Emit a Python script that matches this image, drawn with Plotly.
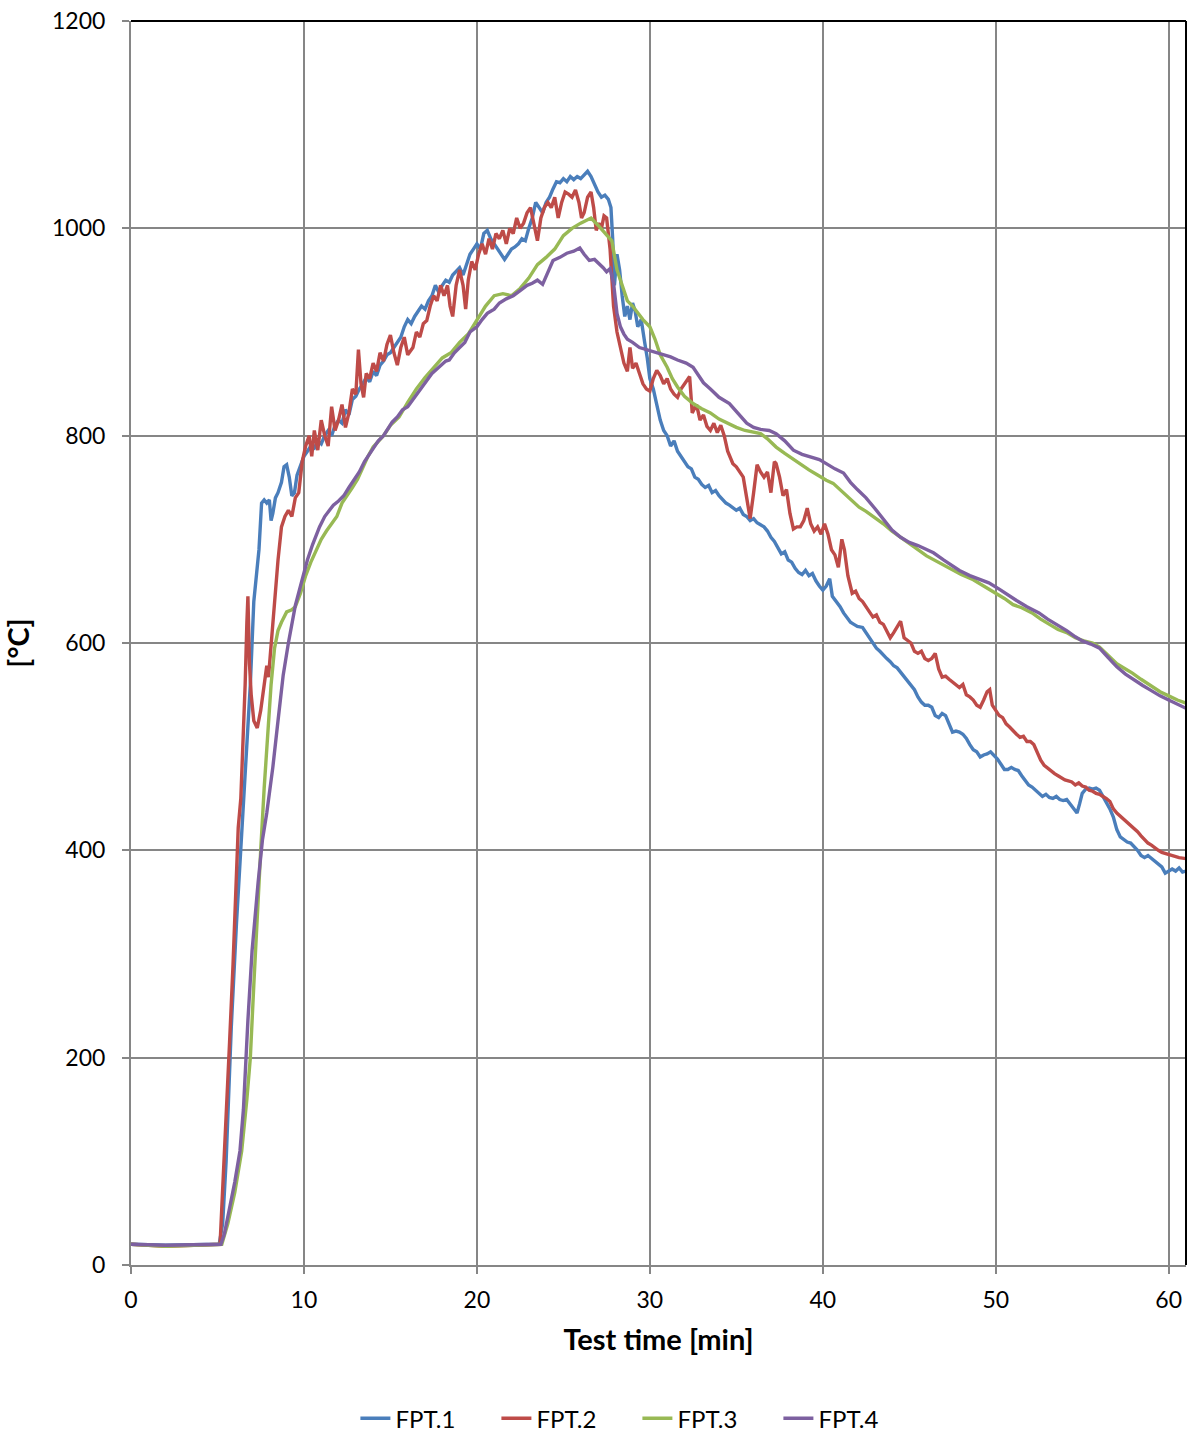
import plotly.graph_objects as go

# ---------------- data ----------------
t1 = [0, 2, 5.1, 5.3, 5.5, 5.8, 6.1, 6.4, 6.7, 6.9, 7.1, 7.25, 7.4, 7.55, 7.7, 7.85, 8.0, 8.1, 8.2, 8.35, 8.5,
      8.7, 8.85, 9.0, 9.15, 9.3, 9.45, 9.6, 9.75, 10.0, 10.2, 10.4, 10.6, 10.8, 11.0, 11.2, 11.4, 11.6, 11.8,
      12.0, 12.2, 12.4, 12.6, 12.8, 13.0, 13.2, 13.4, 13.6, 13.8, 14.0, 14.2, 14.4, 14.6, 14.8, 15.0, 15.2,
      15.4, 15.6, 15.8, 16.0, 16.2, 16.4, 16.6, 16.8, 17.0, 17.2, 17.4, 17.6, 17.8, 18.0, 18.2, 18.4, 18.6,
      18.8, 19.0, 19.2, 19.4, 19.6, 19.8, 20.0, 20.2, 20.4, 20.6, 20.8, 21.0, 21.2, 21.4, 21.6, 21.8, 22.0,
      22.2, 22.4, 22.6, 22.8, 23.0, 23.2, 23.4, 23.6, 23.8, 24.0, 24.2, 24.4, 24.6, 24.8, 25.0, 25.2, 25.4,
      25.6, 25.8, 26.0, 26.2, 26.4, 26.6, 26.8, 27.0, 27.2, 27.4, 27.6, 27.75, 27.85, 27.95, 28.1, 28.25,
      28.4, 28.55, 28.7, 28.85, 29.0, 29.15, 29.3, 29.5, 29.7, 29.85, 30.0, 30.2, 30.4, 30.6, 30.8, 31.0,
      31.2, 31.4, 31.6, 31.8, 32.0, 32.2, 32.4, 32.6, 32.8, 33.0, 33.2, 33.4, 33.6, 33.8, 34.0, 34.2, 34.4,
      34.6, 34.8, 35.0, 35.2, 35.4, 35.6, 35.8, 36.0, 36.2, 36.4, 36.6, 36.8, 37.0, 37.2, 37.4, 37.6, 37.8,
      38.0, 38.2, 38.4, 38.6, 38.8, 39.0, 39.2, 39.4, 39.6, 39.8, 40.0, 40.2, 40.4, 40.55, 40.8, 41.0, 41.2,
      41.4, 41.6, 41.8, 42.0, 42.3, 42.5, 42.7, 42.9, 43.1, 43.3, 43.5, 43.7, 43.9, 44.1, 44.3, 44.5, 44.7,
      44.9, 45.1, 45.3, 45.5, 45.7, 45.9, 46.1, 46.3, 46.5, 46.7, 46.9, 47.1, 47.3, 47.5, 47.7, 47.9, 48.1,
      48.3, 48.5, 48.7, 48.9, 49.1, 49.3, 49.5, 49.7, 49.9, 50.1, 50.3, 50.5, 50.7, 50.9, 51.1, 51.3, 51.5,
      51.7, 51.9, 52.1, 52.3, 52.5, 52.7, 52.9, 53.1, 53.3, 53.5, 53.7, 53.9, 54.1, 54.3, 54.5, 54.7, 54.85,
      55.0, 55.2, 55.4, 55.6, 55.8, 56.0, 56.2, 56.4, 56.6, 56.8, 57.0, 57.2, 57.4, 57.6, 57.8, 58.0, 58.2,
      58.4, 58.6, 58.8, 59.0, 59.2, 59.4, 59.6, 59.8, 60.0, 60.2, 60.4, 60.6, 60.8, 61.0]
v1 = [20, 19, 20, 40, 100, 230, 330, 420, 500, 560, 640, 665, 690, 735, 738, 735, 738, 718, 725, 740, 745,
      755, 770, 772, 760, 742, 745, 762, 768, 780, 785, 790, 788, 795, 792, 800, 805, 800, 810,
      815, 812, 825, 820, 835, 838, 845, 850, 856, 852, 862, 858, 868, 872, 878, 880, 885,
      890, 895, 905, 912, 908, 915, 920, 925, 922, 930, 935, 945, 938, 945, 950, 948, 955,
      958, 962, 955, 965, 975, 980, 985, 980, 995, 998, 990, 985, 980, 975, 970, 975, 980,
      982, 985, 990, 988, 1000, 1010, 1025, 1020, 1015, 1025, 1030, 1038, 1045, 1044, 1048, 1045, 1050,
      1047, 1050, 1048, 1052, 1055, 1050, 1042, 1035, 1030, 1032, 1028, 1020, 990, 945, 975, 960,
      935, 915, 925, 912, 928, 920, 905, 912, 890, 875, 855, 845, 830, 815, 805, 800,
      790, 795, 785, 780, 775, 770, 768, 760, 758, 753, 750, 752, 745, 747, 742, 738, 735,
      733, 730, 728, 730, 724, 722, 718, 720, 716, 714, 712, 708, 702, 698, 692, 686, 688,
      680, 678, 672, 668, 666, 670, 665, 667, 660, 655, 651, 655, 662, 645, 640, 635, 629,
      625, 620, 618, 616, 615, 610, 605, 600, 595, 592, 588, 585, 582, 578, 576, 572, 568,
      563, 560, 555, 548, 543, 540, 540, 538, 530, 528, 532, 530, 522, 514, 515, 514, 512,
      508, 502, 497, 495, 490, 492, 493, 495, 492, 488, 483, 478, 478, 480, 478, 477, 472,
      468, 463, 461, 458, 455, 452, 454, 451, 450, 452, 449, 448, 449, 445, 440, 436, 445,
      455, 459, 460, 459, 460, 458, 452, 445, 440, 432, 420, 413, 410, 408, 407, 404, 400,
      395, 393, 395, 392, 390, 387, 384, 378, 380, 382, 380, 383, 379, 380]

t2 = [0, 2, 5.15, 5.3, 5.5, 5.7, 5.9, 6.1, 6.2, 6.35, 6.5, 6.6, 6.7, 6.76, 6.85, 6.95, 7.1, 7.3, 7.5, 7.7,
      7.85, 7.95, 8.1, 8.3, 8.5, 8.7, 8.9, 9.1, 9.3, 9.5, 9.7, 9.9, 10.1, 10.3, 10.45, 10.6, 10.8, 11.0,
      11.2, 11.4, 11.6, 11.8, 12.0, 12.2, 12.4, 12.6, 12.8, 13.0, 13.15, 13.3, 13.45, 13.6, 13.8, 14.0,
      14.2, 14.4, 14.6, 14.8, 15.0, 15.2, 15.4, 15.6, 15.8, 16.0, 16.3, 16.5, 16.7, 16.9, 17.1, 17.3,
      17.5, 17.7, 17.9, 18.1, 18.3, 18.45, 18.6, 18.8, 19.0, 19.2, 19.35, 19.5, 19.7, 19.9, 20.1, 20.3,
      20.5, 20.7, 20.9, 21.1, 21.3, 21.5, 21.7, 21.9, 22.1, 22.3, 22.5, 22.7, 22.9, 23.1, 23.3, 23.5,
      23.7, 23.9, 24.1, 24.3, 24.5, 24.7, 24.9, 25.1, 25.3, 25.5, 25.7, 25.9, 26.05, 26.2, 26.4, 26.6,
      26.75, 26.9, 27.05, 27.2, 27.35, 27.5, 27.7, 27.9, 28.1, 28.3, 28.5, 28.7, 28.85, 29.0, 29.2, 29.4,
      29.6, 29.8, 30.0, 30.2, 30.4, 30.6, 30.8, 31.0, 31.2, 31.4, 31.6, 31.8, 32.0, 32.3, 32.45, 32.7,
      32.9, 33.1, 33.3, 33.5, 33.7, 33.9, 34.1, 34.3, 34.5, 34.8, 35.0, 35.2, 35.4, 35.6, 35.8, 36.0,
      36.2, 36.4, 36.6, 36.8, 37.0, 37.2, 37.3, 37.5, 37.7, 37.9, 38.1, 38.3, 38.5, 38.7, 38.9, 39.1,
      39.3, 39.5, 39.7, 39.9, 40.1, 40.3, 40.5, 40.7, 40.9, 41.1, 41.25, 41.45, 41.7, 41.9, 42.1, 42.3,
      42.5, 42.7, 42.9, 43.1, 43.3, 43.5, 43.7, 43.9, 44.1, 44.3, 44.5, 44.7, 44.9, 45.1, 45.3, 45.5,
      45.7, 45.9, 46.1, 46.3, 46.5, 46.7, 46.9, 47.1, 47.3, 47.5, 47.7, 47.9, 48.1, 48.3, 48.5, 48.7,
      48.9, 49.1, 49.3, 49.5, 49.65, 49.8, 50.0, 50.2, 50.4, 50.6, 50.8, 51.0, 51.2, 51.4, 51.6, 51.8,
      52.0, 52.2, 52.4, 52.6, 52.8, 53.0, 53.2, 53.4, 53.6, 53.8, 54.0, 54.2, 54.4, 54.6, 54.8, 55.0,
      55.2, 55.4, 55.6, 55.8, 56.0, 56.2, 56.4, 56.6, 56.8, 57.0, 57.2, 57.4, 57.6, 57.8, 58.0, 58.2,
      58.4, 58.6, 58.8, 59.0, 59.2, 59.4, 59.6, 59.8, 60.0, 60.3, 60.6, 61.0]
v2 = [20, 18, 20, 70, 150, 215, 290, 390, 422, 450, 510, 560, 620, 645, 580, 550, 525, 518, 535, 560,
      578, 567, 600, 640, 680, 712, 722, 728, 722, 740, 745, 775, 790, 800, 780, 805, 786, 815,
      800, 790, 828, 805, 815, 830, 808, 822, 845, 840, 883, 850, 837, 860, 855, 870,
      862, 880, 872, 888, 897, 880, 868, 885, 895, 878, 885, 900, 895, 908, 911, 925,
      935, 930, 945, 935, 945, 925, 915, 945, 960, 945, 922, 950, 968, 960, 975, 985,
      975, 990, 980, 995, 990, 998, 985, 1000, 995, 1010, 1000, 1005, 1015, 1020, 1005, 988,
      1010, 1020, 1025, 1020, 1030, 1010, 1025, 1035, 1033, 1030, 1037, 1025, 1010, 1015, 1030, 1035,
      1020, 998, 1005, 1000, 1012, 1010, 980, 925, 900, 885, 870, 862, 885, 865, 870, 860,
      850, 845, 843, 855, 863, 858, 850, 855, 845, 840, 837, 845, 850, 857, 822, 830,
      815, 820, 809, 805, 812, 803, 810, 800, 785, 773, 770, 765, 760, 740, 720, 745,
      772, 765, 760, 765, 745, 775, 773, 760, 742, 748, 725, 710, 712, 712, 718, 730,
      715, 708, 712, 705, 715, 705, 690, 685, 673, 700, 690, 665, 648, 650, 643, 640,
      635, 630, 625, 627, 620, 618, 612, 605, 610, 615, 621, 605, 602, 600, 592, 590,
      592, 585, 583, 585, 590, 575, 567, 568, 565, 562, 560, 557, 560, 550, 548, 545,
      540, 538, 545, 553, 555, 540, 535, 530, 528, 522, 519, 515, 512, 509, 510, 505,
      505, 502, 495, 487, 482, 479, 477, 474, 472, 470, 468, 467, 466, 463, 465, 462,
      461, 458, 457, 455, 454, 452, 450, 447, 440, 436, 433, 430, 427, 424, 422, 418,
      414, 410, 407, 405, 402, 400, 398, 397, 396, 395, 393, 392]

t3 = [0, 2, 5.25, 5.6, 6.0, 6.4, 6.7, 6.9, 7.1, 7.3, 7.5, 7.7, 7.9, 8.1, 8.3, 8.5, 8.7, 9.0, 9.3, 9.5, 9.8,
      10.1, 10.4, 10.7, 11.0, 11.3, 11.6, 11.9, 12.2, 12.5, 12.8, 13.1, 13.4, 13.7, 14.0, 14.3, 14.6, 15.0,
      15.5, 16.0, 16.5, 17.0, 17.5, 18.0, 18.5, 19.0, 19.5, 20.0, 20.5, 21.0, 21.5, 22.0, 22.5, 23.0, 23.5,
      24.0, 24.5, 25.0, 25.5, 26.0, 26.6, 27.0, 27.4, 27.8, 28.1, 28.4, 28.7, 29.0, 29.3, 29.6, 30.0, 30.3,
      30.6, 31.0, 31.3, 31.6, 32.0, 32.5, 33.0, 33.5, 34.0, 34.5, 35.0, 35.5, 36.0, 36.4, 36.8, 37.3, 37.8,
      38.3, 38.8, 39.2, 39.7, 40.2, 40.6, 41.2, 41.6, 42.1, 42.5, 43.0, 43.5, 44.0, 44.5, 45.0, 45.5, 46.0,
      46.8, 47.5, 48.0, 48.7, 49.3, 50.0, 50.5, 51.0, 51.5, 52.1, 52.6, 53.2, 53.6, 54.1, 54.6, 55.1, 55.6,
      56.0, 56.5, 57.0, 57.5, 57.9, 58.4, 59.0, 59.5, 60.0, 60.5, 61.0]
v3 = [20, 18, 20, 40, 70, 110, 160, 200, 270, 340, 400, 460, 510, 560, 595, 612, 620, 630, 632, 635, 648,
      665, 678, 690, 700, 708, 715, 722, 735, 742, 750, 758, 770, 780, 789, 795, 800, 810,
      818, 832, 845, 856, 866, 875, 880, 890, 898, 912, 925, 935, 937, 935, 942, 952, 965,
      972, 980, 993, 1000, 1005, 1010, 1003, 995, 988, 960, 945, 930, 925, 918, 912, 905, 893,
      878, 866, 855, 847, 838, 831, 826, 822, 816, 812, 808, 805, 803, 802, 797, 789, 783,
      777, 772, 767, 762, 757, 754, 745, 738, 731, 727, 721, 715, 708, 702, 697, 690, 684,
      677, 670, 666, 661, 655, 648, 643, 637, 634, 629, 623, 617, 613, 610, 605, 602, 600,
      596, 588, 580, 575, 571, 565, 558, 553, 549, 545, 542]

t4 = [0, 2, 5.2, 5.4, 5.7, 6.0, 6.3, 6.5, 6.76, 7.0, 7.35, 7.6, 7.85, 8.2, 8.5, 8.8, 9.1, 9.5, 9.8, 10.2,
      10.5, 10.9, 11.2, 11.4, 11.7, 12.0, 12.3, 12.6, 12.9, 13.2, 13.5, 13.8, 14.0, 14.3, 14.6, 14.9, 15.1,
      15.4, 15.7, 16.0, 16.3, 16.7, 17.0, 17.4, 17.8, 18.2, 18.4, 18.7, 19.0, 19.3, 19.6, 20.0, 20.3, 20.6,
      21.0, 21.3, 21.7, 22.1, 22.5, 22.9, 23.2, 23.5, 23.8, 24.1, 24.4, 24.8, 25.2, 25.6, 25.95, 26.2, 26.5,
      26.8, 27.0, 27.3, 27.5, 27.7, 27.9, 28.1, 28.3, 28.5, 28.7, 29.0, 29.4, 29.8, 30.2, 30.7, 31.2, 31.6,
      32.1, 32.5, 32.8, 33.1, 33.5, 34.0, 34.6, 35.1, 35.6, 36.0, 36.4, 36.9, 37.3, 37.8, 38.3, 38.8, 39.4,
      39.8, 40.2, 40.7, 41.2, 41.6, 42.0, 42.5, 43.0, 43.5, 44.0, 44.5, 45.0, 45.5, 46.0, 46.4, 47.0, 47.5,
      47.9, 48.5, 49.0, 49.6, 50.2, 50.7, 51.2, 51.8, 52.5, 53.0, 53.6, 54.1, 54.6, 55.0, 55.5, 56.0, 56.5,
      57.0, 57.5, 58.0, 58.5, 58.9, 59.5, 60.0, 60.5, 61.0]
v4 = [20, 19, 20, 30, 55, 80, 110, 150, 236, 303, 369, 410, 436, 480, 525, 569, 600, 636, 655, 680,
      695, 712, 722, 726, 733, 737, 742, 750, 758, 765, 775, 783, 787, 795, 800, 808, 813,
      818, 825, 828, 835, 844, 852, 860, 866, 872, 873, 880, 885, 890, 900, 905, 912, 918,
      922, 928, 932, 935, 940, 945, 947, 950, 946, 958, 969, 972, 976, 978, 981, 975, 969,
      970, 967, 962, 958, 961, 947, 918, 905, 898, 893, 890, 885, 883, 881, 879, 876, 873,
      870, 866, 858, 851, 845, 837, 831, 822, 812, 808, 806, 805, 802, 795, 786, 782, 779,
      777, 773, 768, 764, 755, 748, 740, 730, 720, 709, 702, 697, 694, 690, 687, 680, 674,
      670, 665, 662, 658, 652, 646, 641, 635, 629, 623, 617, 612, 606, 602, 599, 595, 586,
      577, 570, 564, 559, 555, 549, 545, 541, 537]

series_names = ["FPT.1", "FPT.2", "FPT.3", "FPT.4"]
series_colors = ["#4A7EBB", "#BE4B48", "#98B954", "#7D60A0"]
x_ticks = [0, 10, 20, 30, 40, 50, 60]
y_ticks = [0, 200, 400, 600, 800, 1000, 1200]
x_title = "Test time [min]"
y_title = "[°C]"

# ---------------- figure ----------------
fig = go.Figure()
for t, v, name, col in zip([t1, t2, t3, t4], [v1, v2, v3, v4], series_names, series_colors):
    fig.add_trace(go.Scatter(x=t, y=v, mode="lines", name=name,
                             line=dict(color=col, width=3.4)))

grid = "#868686"
font_family = "Lato, 'Open Sans', sans-serif"
fig.update_layout(
    width=1189, height=1432,
    margin=dict(l=131, r=3, t=21, b=167, autoexpand=False),
    paper_bgcolor="white", plot_bgcolor="white",
    font=dict(family=font_family, color="black", size=22),
    showlegend=True,
    legend=dict(orientation="h", x=0.48, xanchor="center", y=-0.1235, yanchor="middle",
                font=dict(size=24), entrywidth=96, entrywidthmode="pixels",
                traceorder="normal"),
    xaxis=dict(range=[0, 61], tickvals=x_ticks, showgrid=True, gridcolor=grid, gridwidth=2,
               zeroline=False, showline=True, linecolor=grid, linewidth=2,
               ticks="outside", ticklen=7, tickwidth=2, tickcolor=grid,
               tickfont=dict(size=23), ticklabelstandoff=6, automargin=False,
               title=dict(text=f"<b>{x_title}</b>", font=dict(size=29), standoff=18)),
    yaxis=dict(range=[0, 1200], tickvals=y_ticks, showgrid=True, gridcolor=grid, gridwidth=2,
               zeroline=False, showline=True, linecolor=grid, linewidth=2,
               ticks="outside", ticklen=7, tickwidth=2, tickcolor=grid,
               tickfont=dict(size=23), ticklabelstandoff=12, automargin=False,
               title=dict(text=f"<b>{y_title}</b>", font=dict(size=29), standoff=26)),
)
# black frame on top and right
fig.add_shape(type="line", xref="paper", yref="paper", x0=0, x1=1, y0=1, y1=1,
              line=dict(color="black", width=2))
fig.add_shape(type="line", xref="paper", yref="paper", x0=1, x1=1, y0=0, y1=1,
              line=dict(color="black", width=2))

fig.write_html("out.html")
